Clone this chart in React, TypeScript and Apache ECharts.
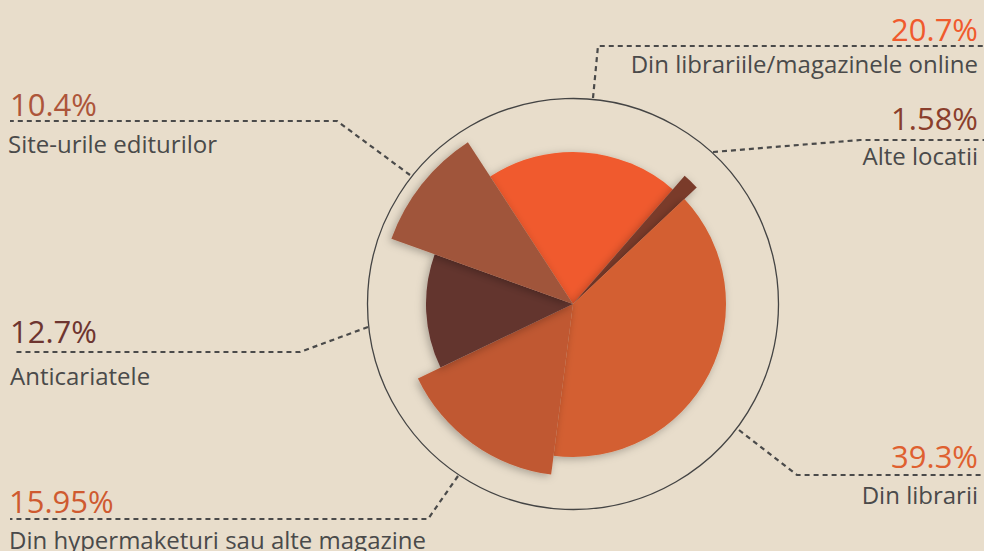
import React, { useEffect, useRef } from "react";
import * as echarts from "echarts";

const categories = [
  "Din librariile/magazinele online",
  "Alte locatii",
  "Din librarii",
  "Din hypermaketuri sau alte magazine",
  "Anticariatele",
  "Site-urile editurilor",
];
const values = [20.7, 1.58, 39.3, 15.95, 12.7, 10.4];
const valueLabels = ["20.7%", "1.58%", "39.3%", "15.95%", "12.7%", "10.4%"];

const sliceColors = ["#f05a2d", "#7a3a2b", "#d35f31", "#c05832", "#63342e", "#a0543a"];
const labelColors = ["#f05a2d", "#8a3e2c", "#df602f", "#cf5a30", "#6e3530", "#ad553a"];
const sliceRadius = [152, 170, 153, 172, 147, 193];

const CX = 573;
const CY = 304;

export default function App() {
  const ref = useRef<HTMLDivElement>(null);
  useEffect(() => {
    if (!ref.current) return;
    const chart = echarts.init(ref.current, undefined, { renderer: "svg" });
    const series: any[] = values.map((_, i) => ({
      type: "pie",
      center: [CX, CY],
      radius: [0, sliceRadius[i]],
      startAngle: 123,
      clockwise: true,
      silent: true,
      label: { show: false },
      labelLine: { show: false },
      emphasis: { disabled: true },
      z: 2,
      data: values.map((v, j) => ({
        name: categories[j],
        value: v,
        itemStyle:
          j === i
            ? {
                color: sliceColors[j],
                shadowBlur: 8,
                shadowOffsetX: -2,
                shadowOffsetY: 2,
                shadowColor: "rgba(0,0,0,0.28)",
              }
            : { color: "rgba(0,0,0,0)" },
      })),
    }));

    const font = "'Open Sans', 'Noto Sans', sans-serif";
    const pct = (text: string, x: number, y: number, align: string, color: string) => ({
      type: "text",
      x,
      y,
      style: { text, fill: color, font: `31px ${font}`, align, verticalAlign: "middle" },
    });
    const lbl = (text: string, x: number, y: number, align: string) => ({
      type: "text",
      x,
      y,
      style: { text, fill: "#4a4a4a", font: `24px ${font}`, align, verticalAlign: "middle" },
    });
    const dash = (points: number[][]) => ({
      type: "polyline",
      shape: { points },
      style: { stroke: "#4a4a4a", lineWidth: 2.2, lineDash: [5, 4], fill: "none" },
    });

    chart.setOption({
      animation: false,
      backgroundColor: "#e8ddcb",
      series,
      graphic: [
        {
          type: "circle",
          shape: { cx: CX, cy: CY, r: 205.5 },
          style: { fill: "none", stroke: "#444", lineWidth: 1.3 },
          z: 1,
        },
        dash([[593, 98], [598, 46], [984, 46]]),
        pct(valueLabels[0], 978, 28.5, "right", labelColors[0]),
        lbl(categories[0], 978, 63.5, "right"),
        dash([[713, 152], [860, 140], [984, 140]]),
        pct(valueLabels[1], 978, 117.5, "right", labelColors[1]),
        lbl(categories[1], 978, 155.5, "right"),
        dash([[739, 430], [797, 475], [984, 475]]),
        pct(valueLabels[2], 978, 456, "right", labelColors[2]),
        lbl(categories[2], 978, 494.5, "right"),
        dash([[458, 476], [428, 519], [10, 519]]),
        pct(valueLabels[3], 9, 501, "left", labelColors[3]),
        lbl(categories[3], 9, 539, "left"),
        dash([[368, 327], [300, 352], [13, 352]]),
        pct(valueLabels[4], 10, 331, "left", labelColors[4]),
        lbl(categories[4], 10, 375, "left"),
        dash([[410, 175], [337, 121], [10, 121]]),
        pct(valueLabels[5], 10, 103.5, "left", labelColors[5]),
        lbl(categories[5], 8, 143.5, "left"),
      ],
    });
    return () => chart.dispose();
  }, []);
  return (
    <div
      ref={ref}
      style={{ position: "absolute", left: 0, top: 0, width: 984, height: 551 }}
    />
  );
}
